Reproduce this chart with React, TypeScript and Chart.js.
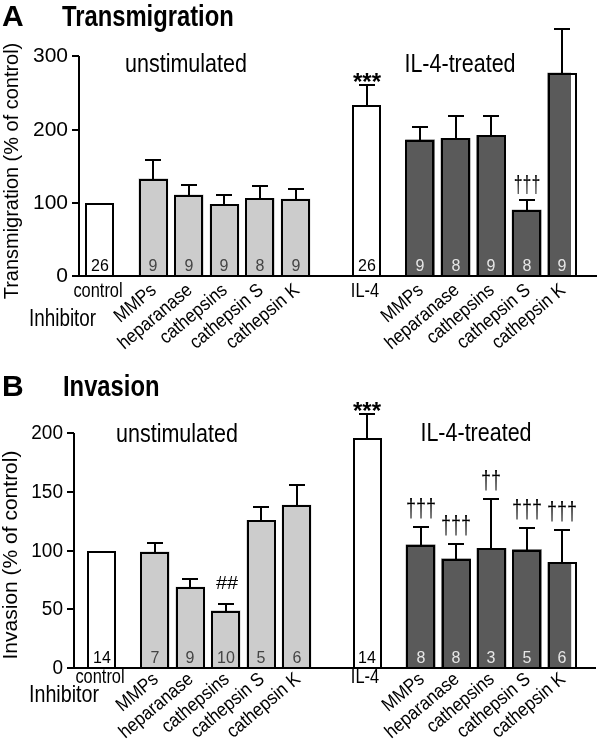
import React, { useEffect, useRef } from "react";
import { Chart, registerables } from "chart.js";

Chart.register(...registerables);

// ---------- data ----------
const inhibitors = ["MMPs", "heparanase", "cathepsins", "cathepsin S", "cathepsin K"];
const unstimBaseLabel = "control";
const il4BaseLabel = "IL-4";

// Panel A – Transmigration (% of control)
const transUnstimMean = [100, 133, 111, 98, 106, 105];
const transUnstimErr = [0, 26, 13, 13, 17, 14];
const transUnstimN = ["26", "9", "9", "9", "8", "9"];
const transUnstimSig = ["", "", "", "", "", ""];
const transIL4Mean = [234, 186, 188, 192, 90, 277];
const transIL4Err = [27, 17, 30, 27, 14, 60];
const transIL4N = ["26", "9", "8", "9", "8", "9"];
const transIL4Sig = ["***", "", "", "", "†††", ""];
const transTicks = [0, 100, 200, 300];

// Panel B – Invasion (% of control)
const invUnstimMean = [100, 99, 69, 49, 126, 139];
const invUnstimErr = [0, 8, 7, 6, 11, 17];
const invUnstimN = ["14", "7", "9", "10", "5", "6"];
const invUnstimSig = ["", "", "", "##", "", ""];
const invIL4Mean = [196, 105, 93, 102, 101, 90];
const invIL4Err = [21, 15, 13, 42, 18, 28];
const invIL4N = ["14", "8", "8", "3", "5", "6"];
const invIL4Sig = ["***", "†††", "†††", "††", "†††", "†††"];
const invTicks = [0, 50, 100, 150, 200];

// ---------- layout helpers ----------
const FAM = "'Liberation Sans', Arial, sans-serif";
const WHITE = "#ffffff";
const LIGHT = "#cccccc";
const DARK = "#5a5a5a";

// half-slot positions of bars on the category axis
const UNSTIM_SLOTS = [0, 3, 5, 7, 9, 11];
const IL4_SLOTS = [15, 18, 20, 22, 24, 26];
const N_SLOTS = 27;

type Bar = {
  slot: number;
  label: string;
  mean: number;
  err: number;
  n: string;
  sig: string;
  fill: string;
  nColor: string;
  horizontal: boolean;
};

function buildBars(
  uMean: number[], uErr: number[], uN: string[], uSig: string[],
  iMean: number[], iErr: number[], iN: string[], iSig: string[]
): Bar[] {
  const bars: Bar[] = [];
  const names = (base: string) => [base, ...inhibitors];
  names(unstimBaseLabel).forEach((lab, k) =>
    bars.push({
      slot: UNSTIM_SLOTS[k], label: lab, mean: uMean[k], err: uErr[k], n: uN[k], sig: uSig[k],
      fill: k === 0 ? WHITE : LIGHT, nColor: k === 0 ? "#000" : "#444444", horizontal: k === 0,
    })
  );
  names(il4BaseLabel).forEach((lab, k) =>
    bars.push({
      slot: IL4_SLOTS[k], label: lab, mean: iMean[k], err: iErr[k], n: iN[k], sig: iSig[k],
      fill: k === 0 ? WHITE : DARK, nColor: k === 0 ? "#000" : "#e6e6e6", horizontal: k === 0,
    })
  );
  return bars;
}

type TextOpt = {
  font: string; align?: CanvasTextAlign; baseline?: CanvasTextBaseline;
  color?: string; sx?: number; sy?: number; rot?: number;
};
function txt(ctx: CanvasRenderingContext2D, s: string, x: number, y: number, o: TextOpt) {
  ctx.save();
  ctx.translate(x, y);
  if (o.rot) ctx.rotate(o.rot);
  ctx.scale(o.sx ?? 1, o.sy ?? 1);
  ctx.font = o.font;
  ctx.textAlign = o.align ?? "left";
  ctx.textBaseline = o.baseline ?? "alphabetic";
  ctx.fillStyle = o.color ?? "#000";
  ctx.fillText(s, 0, 0);
  ctx.restore();
}

type PanelCfg = {
  height: number;
  bars: Bar[];
  ticks: number[];
  yMax: number;
  padding: { left: number; right: number; top: number; bottom: number };
  axisOffset: number;
  axisRight: number;
  letter: string;
  title: string;
  titleX: number;
  titleBase: number;
  yTitle: string;
  yTitlePos: [number, number];
  yTitleFont: number;
  yTitleSx: number;
  tickFont: number;
  tickSx: number;
  unstimPos: [number, number];
  il4Pos: [number, number];
  xLabelDy: number;
  inhibitorDy: number;
  inhibitorFont: number;
  rotDy: number;
  daggerFont: number;
  daggerSx: number;
  daggerGap: number;
};

function makeOverlay(cfg: PanelCfg) {
  return {
    id: "overlay",
    afterDatasetsDraw(chart: any) {
      const ctx: CanvasRenderingContext2D = chart.ctx;
      const ys = chart.scales.y;
      const meta = chart.getDatasetMeta(0);
      const area = chart.chartArea;
      const axX = Math.round(area.left - cfg.axisOffset);
      const y0 = Math.round(ys.getPixelForValue(0));
      const yTopTick = Math.round(ys.getPixelForValue(cfg.ticks[cfg.ticks.length - 1]));

      ctx.save();
      ctx.strokeStyle = "#000";
      ctx.lineWidth = 2;
      ctx.lineCap = "butt";

      // bar outlines
      cfg.bars.forEach((b) => {
        const el = meta.data[b.slot];
        if (!el) return;
        const w = el.width;
        const l = Math.round(el.x - w / 2) + 1;
        const r = Math.round(el.x + w / 2) - 1;
        const t = Math.round(el.y) + 1;
        ctx.strokeRect(l, t, r - l, y0 - t);
      });

      // y axis
      ctx.beginPath();
      ctx.moveTo(axX, yTopTick);
      ctx.lineTo(axX, y0 + 1);
      ctx.stroke();
      // x axis
      ctx.beginPath();
      ctx.moveTo(axX, y0);
      ctx.lineTo(cfg.axisRight, y0);
      ctx.stroke();
      // ticks
      cfg.ticks.forEach((t) => {
        const ty = Math.round(ys.getPixelForValue(t));
        ctx.beginPath();
        ctx.moveTo(axX - 7, ty);
        ctx.lineTo(axX, ty);
        ctx.stroke();
        txt(ctx, String(t), axX - 11, ty, {
          font: `${cfg.tickFont}px ${FAM}`, align: "right", baseline: "middle", sx: cfg.tickSx,
        });
      });

      cfg.bars.forEach((b) => {
        const el = meta.data[b.slot];
        if (!el) return;
        const x = Math.round(el.x);
        const yMean = ys.getPixelForValue(b.mean);
        const yErr = Math.round(ys.getPixelForValue(b.mean + b.err));
        // error bar (upper)
        if (b.err > 0) {
          ctx.beginPath();
          ctx.moveTo(x, Math.round(yMean));
          ctx.lineTo(x, yErr);
          ctx.moveTo(x - 8, yErr);
          ctx.lineTo(x + 8, yErr);
          ctx.stroke();
        }
        // n label
        txt(ctx, b.n, x, y0 - 5, { font: `16px ${FAM}`, align: "center", color: b.nColor });
        // significance
        if (b.sig) {
          const top = b.err > 0 ? yErr : Math.round(yMean);
          if (b.sig.startsWith("*")) {
            txt(ctx, b.sig, x, top + 5, { font: `bold 24px ${FAM}`, align: "center" });
          } else if (b.sig.startsWith("#")) {
            txt(ctx, b.sig, x + 1, top - 15, { font: `19px ${FAM}`, align: "center", sx: 1.05 });
          } else {
            txt(ctx, b.sig, x, top - cfg.daggerGap, {
              font: `${cfg.daggerFont}px ${FAM}`, align: "center", sx: cfg.daggerSx, sy: 1.2,
            });
          }
        }
        // category label
        if (b.horizontal) {
          txt(ctx, b.label, x - 2, y0 + cfg.xLabelDy, { font: `20px ${FAM}`, align: "center", sx: 0.82 });
        } else {
          txt(ctx, b.label, x + 1, y0 + cfg.rotDy, {
            font: `19px ${FAM}`, align: "right", baseline: "middle", sx: 0.9, rot: (-40 * Math.PI) / 180,
          });
        }
      });

      // "Inhibitor"
      txt(ctx, "Inhibitor", 29, y0 + cfg.inhibitorDy, { font: `${cfg.inhibitorFont}px ${FAM}`, sx: 0.82 });

      // group labels
      txt(ctx, "unstimulated", cfg.unstimPos[0], cfg.unstimPos[1], { font: `25px ${FAM}`, align: "center", sx: 0.86 });
      txt(ctx, "IL-4-treated", cfg.il4Pos[0], cfg.il4Pos[1], { font: `25px ${FAM}`, align: "center", sx: 0.86 });

      // y-axis title
      txt(ctx, cfg.yTitle, cfg.yTitlePos[0], cfg.yTitlePos[1], {
        font: `${cfg.yTitleFont}px ${FAM}`, align: "center", baseline: "middle", sx: cfg.yTitleSx, rot: -Math.PI / 2,
      });

      // panel letter and title
      txt(ctx, cfg.letter, 2, 26, { font: `bold 30px ${FAM}` });
      txt(ctx, cfg.title, cfg.titleX, cfg.titleBase, { font: `bold 29px ${FAM}`, sx: 0.82 });
      ctx.restore();
    },
  };
}

function Panel({ cfg }: { cfg: PanelCfg }) {
  const ref = useRef<HTMLCanvasElement | null>(null);
  useEffect(() => {
    if (!ref.current) return;
    const labels: string[] = new Array(N_SLOTS).fill("");
    const values: (number | null)[] = new Array(N_SLOTS).fill(null);
    const colors: string[] = new Array(N_SLOTS).fill(WHITE);
    cfg.bars.forEach((b) => {
      labels[b.slot] = b.label;
      values[b.slot] = b.mean;
      colors[b.slot] = b.fill;
    });
    const chart = new Chart(ref.current, {
      type: "bar",
      data: {
        labels,
        datasets: [
          {
            data: values,
            backgroundColor: colors,
            borderWidth: 0,
            barThickness: 29,
          } as any,
        ],
      },
      options: {
        responsive: false,
        animation: false,
        events: [],
        layout: { padding: cfg.padding },
        plugins: { legend: { display: false }, tooltip: { enabled: false }, title: { display: false } },
        scales: {
          x: { type: "category", offset: true, display: false, grid: { display: false } },
          y: { min: 0, max: cfg.yMax, display: false, grid: { display: false } },
        },
      },
      plugins: [makeOverlay(cfg)],
    });
    return () => chart.destroy();
  }, [cfg]);
  return <canvas ref={ref} width={600} height={cfg.height} style={{ display: "block", width: 600, height: cfg.height }} />;
}

const panelA: PanelCfg = {
  height: 370,
  bars: buildBars(transUnstimMean, transUnstimErr, transUnstimN, transUnstimSig,
    transIL4Mean, transIL4Err, transIL4N, transIL4Sig),
  ticks: transTicks,
  yMax: 340,
  padding: { left: 91.1, right: 28.9, top: 27, bottom: 94 },
  axisOffset: 12,
  axisRight: 597,
  letter: "A",
  title: "Transmigration",
  titleX: 62,
  titleBase: 26,
  yTitle: "Transmigration (% of control)",
  yTitlePos: [12, 171],
  yTitleFont: 21,
  yTitleSx: 0.95,
  tickFont: 21,
  tickSx: 1.0,
  unstimPos: [186, 72],
  il4Pos: [460, 72],
  xLabelDy: 21,
  inhibitorDy: 50,
  inhibitorFont: 23,
  rotDy: 12,
  daggerFont: 20,
  daggerSx: 0.8,
  daggerGap: 8,
};

const panelB: PanelCfg = {
  height: 373,
  bars: buildBars(invUnstimMean, invUnstimErr, invUnstimN, invUnstimSig,
    invIL4Mean, invIL4Err, invIL4N, invIL4Sig),
  ticks: invTicks,
  yMax: 220,
  padding: { left: 92.8, right: 28.8, top: 40, bottom: 75 },
  axisOffset: 19,
  axisRight: 596,
  letter: "B",
  title: "Invasion",
  titleX: 63,
  titleBase: 26,
  yTitle: "Invasion (% of control)",
  yTitlePos: [11, 185],
  yTitleFont: 21,
  yTitleSx: 1.0,
  tickFont: 20,
  tickSx: 0.95,
  unstimPos: [177, 72],
  il4Pos: [476, 71],
  xLabelDy: 15,
  inhibitorDy: 34,
  inhibitorFont: 24,
  rotDy: 9,
  daggerFont: 22,
  daggerSx: 0.82,
  daggerGap: 10,
};

export default function App() {
  return (
    <div style={{ position: "absolute", left: 0, top: 0, width: 600, height: 743, background: "#fff" }}>
      <Panel cfg={panelA} />
      <Panel cfg={panelB} />
    </div>
  );
}
